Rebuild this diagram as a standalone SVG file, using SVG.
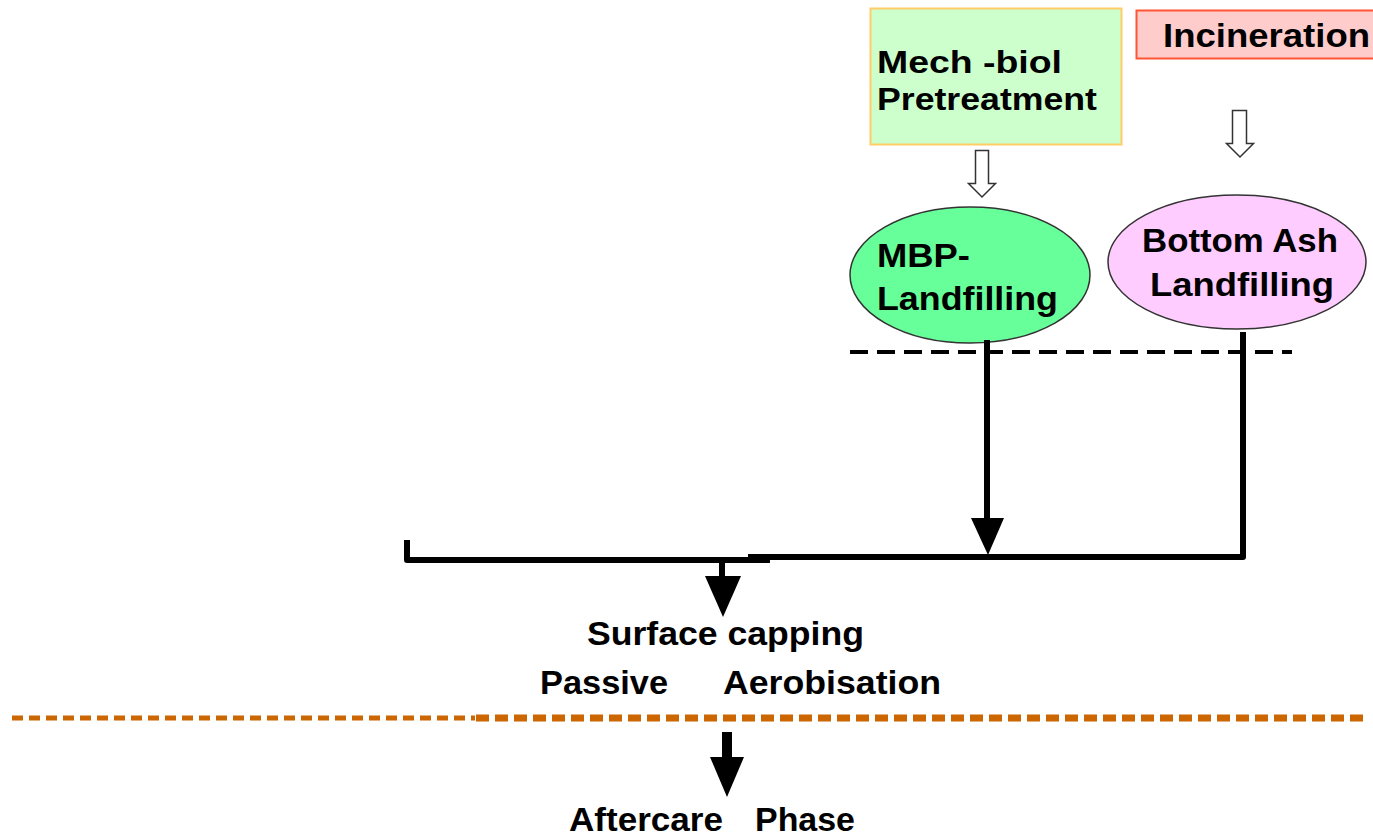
<svg xmlns="http://www.w3.org/2000/svg" width="1373" height="839" viewBox="0 0 1373 839">
<style>
text{font-family:"Liberation Sans",Arial,sans-serif;font-weight:bold;fill:#000;}
.t30{font-size:31px;}
.t33{font-size:33px;}
.line{stroke:#000;stroke-width:6;fill:none;stroke-linejoin:round;}
.hollow{fill:#fff;stroke:#333;stroke-width:1.5;}
.head{fill:#000;}
</style>
<rect width="1373" height="839" fill="#fff"/>
<g id="mech-biol">
<rect x="870.5" y="8.5" width="251" height="136" fill="#ccffcc" stroke="#ffcc66" stroke-width="2"/>
<text class="t30" x="877" y="73" textLength="185" lengthAdjust="spacingAndGlyphs">Mech -biol</text>
<text class="t30" x="877" y="110" textLength="220" lengthAdjust="spacingAndGlyphs">Pretreatment</text>
</g>
<g id="incineration">
<rect x="1136.5" y="10.5" width="250" height="48" fill="#ffcccc" stroke="#ff5533" stroke-width="2"/>
<text class="t33" x="1163" y="47" textLength="207" lengthAdjust="spacingAndGlyphs">Incineration</text>
</g>
<g id="mbp-landfilling">
<ellipse cx="970" cy="275" rx="120" ry="68" fill="#66ff99" stroke="#333" stroke-width="1.5"/>
<text class="t33" x="877" y="267" textLength="93" lengthAdjust="spacingAndGlyphs">MBP-</text>
<text class="t33" x="877" y="310" textLength="181" lengthAdjust="spacingAndGlyphs">Landfilling</text>
</g>
<g id="bottom-ash-landfilling">
<ellipse cx="1237" cy="262" rx="129" ry="67" fill="#ffccff" stroke="#333" stroke-width="1.5"/>
<text class="t33" x="1142" y="252" textLength="196" lengthAdjust="spacingAndGlyphs">Bottom Ash</text>
<text class="t33" x="1150" y="296" textLength="184" lengthAdjust="spacingAndGlyphs">Landfilling</text>
</g>
<g id="surface-capping">
<text class="t33" x="587" y="645" textLength="277" lengthAdjust="spacingAndGlyphs">Surface capping</text>
<text class="t33" x="540" y="694" textLength="128" lengthAdjust="spacingAndGlyphs">Passive</text>
<text class="t33" x="723" y="694" textLength="218" lengthAdjust="spacingAndGlyphs">Aerobisation</text>
</g>
<g id="aftercare">
<text class="t33" x="569" y="831" textLength="154" lengthAdjust="spacingAndGlyphs">Aftercare</text>
<text class="t33" x="755" y="831" textLength="100" lengthAdjust="spacingAndGlyphs">Phase</text>
</g>
<g id="separators">
<line x1="850" y1="352" x2="1292" y2="352" stroke="#000" stroke-width="4" stroke-dasharray="18 9"/>
<line x1="12" y1="718" x2="475" y2="718" stroke="#cc6600" stroke-width="5" stroke-dasharray="11 6"/>
<line x1="476" y1="718" x2="1365" y2="718" stroke="#cc6600" stroke-width="7" stroke-dasharray="13 6"/>
</g>
<g id="connectors">
<path class="hollow" d="M975.5 150.5 H988.5 V183.5 H995.5 L982 197 L968.5 183.5 H975.5 Z"/>
<path class="hollow" d="M1232.5 110.5 H1246.5 V143.5 H1253.5 L1240 157 L1226.5 143.5 H1232.5 Z"/>
<line class="line" x1="987" y1="340" x2="987" y2="522"/>
<polygon class="head" points="971,518 1004,518 988,555"/>
<path class="line" d="M1243 332 V557 H748"/>
<path class="line" d="M407 540 V560 H770"/>
<line class="line" x1="722" y1="560" x2="722" y2="580"/>
<polygon class="head" points="705,576 741,576 723,617"/>
<rect x="722" y="732" width="10" height="28" fill="#000"/>
<polygon class="head" points="710,757 744,757 727,797"/>
</g>
</svg>
